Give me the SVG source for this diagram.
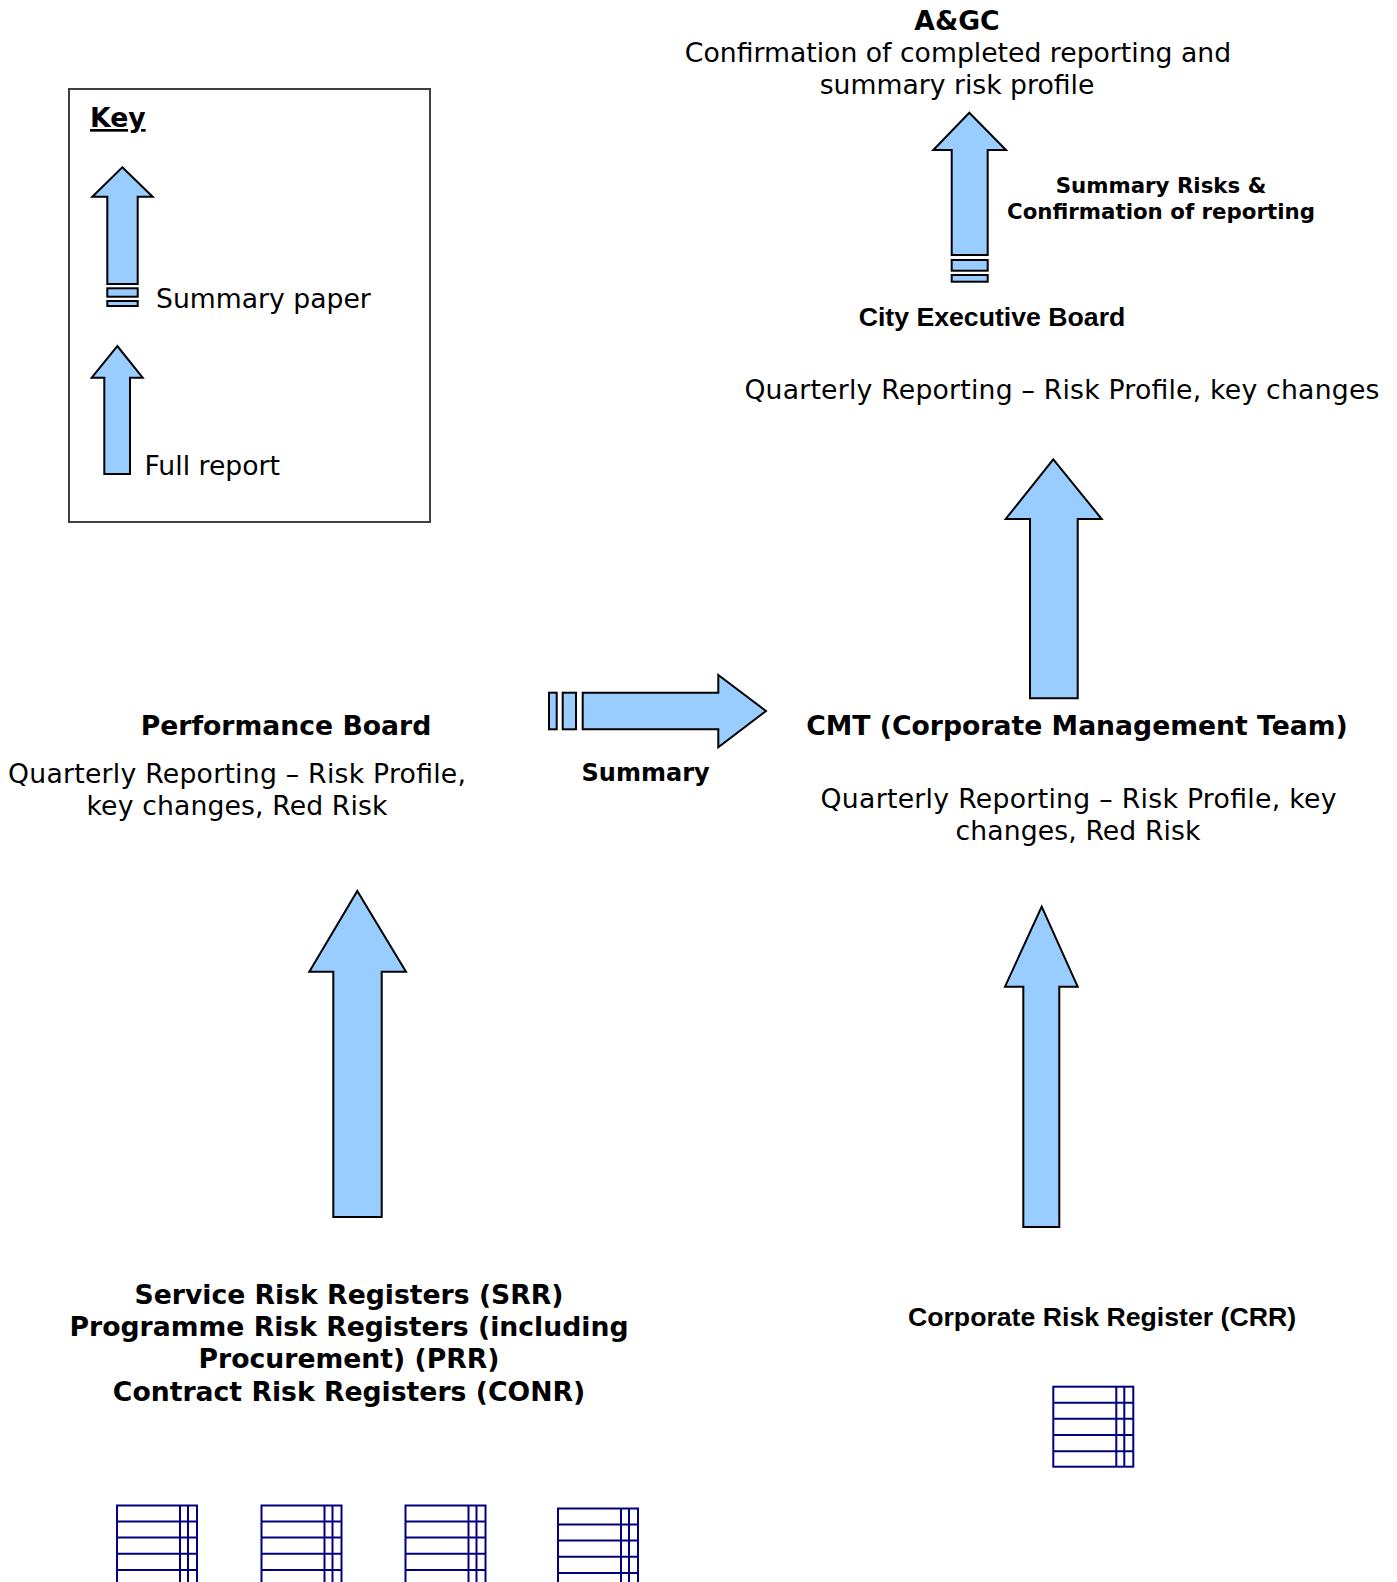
<svg xmlns="http://www.w3.org/2000/svg" xmlns:xlink="http://www.w3.org/1999/xlink" width="1397" height="1582" viewBox="0 0 1397 1582">
<style>
.arrow{fill:#99ccff;stroke:#000;stroke-width:2;stroke-linejoin:miter}
.reg{fill:none;stroke:#000080;stroke-width:2}
.t{font-family:"DejaVu Sans","Verdana",sans-serif;font-size:26.67px;fill:#000}
.tb{font-family:"DejaVu Sans","Verdana",sans-serif;font-size:26.67px;font-weight:bold;fill:#000}
.ab{font-family:"Liberation Sans",Arial,sans-serif;font-size:26.67px;font-weight:bold;fill:#000}
.m{text-anchor:middle}
</style>
<defs>
<g id="reg">
<rect class="reg" x="0" y="0" width="80" height="80"/>
<path class="reg" d="M0 16H80M0 32H80M0 48.3H80M0 64.5H80M63 0V80M71 0V80"/>
</g>
</defs>
<rect width="1397" height="1582" fill="#fff"/>

<g id="key">
<rect x="69" y="89" width="361" height="433" fill="none" stroke="#404040" stroke-width="2"/>
<text class="tb" x="90" y="127" text-decoration="underline">Key</text>
<polygon class="arrow" points="122.3,167.3 152.7,196.7 137.7,196.7 137.7,284 107.3,284 107.3,196.7 92.3,196.7"/>
<rect class="arrow" x="107.3" y="288.3" width="30.4" height="8.4"/>
<rect class="arrow" x="107.3" y="301" width="30.4" height="5"/>
<text class="t" x="156" y="308">Summary paper</text>
<polygon class="arrow" points="117.3,346 142.7,377.7 130,377.7 130,474 104.3,474 104.3,377.7 91.7,377.7"/>
<text class="t" x="144.5" y="475">Full report</text>
</g>

<g id="agc">
<text class="tb m" x="957" y="30">A&amp;GC</text>
<text class="t m" x="958" y="62">Confirmation of completed reporting and</text>
<text class="t m" x="957" y="94">summary risk profile</text>
</g>

<g id="ceb">
<text class="ab m" x="992" y="326">City Executive Board</text>
<text class="t" x="744.4" y="399" textLength="635" lengthAdjust="spacing">Quarterly Reporting – Risk Profile, key changes</text>
</g>

<g id="pb">
<text class="tb m" x="286" y="735">Performance Board</text>
<text class="t m" x="237" y="783" textLength="458" lengthAdjust="spacing">Quarterly Reporting – Risk Profile,</text>
<text class="t m" x="237" y="815" textLength="301" lengthAdjust="spacing">key changes, Red Risk</text>
</g>

<g id="cmt">
<text class="tb m" x="1077" y="735">CMT (Corporate Management Team)</text>
<text class="t m" x="1078.5" y="808" textLength="516" lengthAdjust="spacing">Quarterly Reporting – Risk Profile, key</text>
<text class="t m" x="1078" y="840" textLength="245" lengthAdjust="spacing">changes, Red Risk</text>
</g>

<g id="srr">
<text class="tb m" x="349" y="1304">Service Risk Registers (SRR)</text>
<text class="tb m" x="349" y="1336">Programme Risk Registers (including</text>
<text class="tb m" x="349" y="1368">Procurement) (PRR)</text>
<text class="tb m" x="349" y="1401">Contract Risk Registers (CONR)</text>
<use xlink:href="#reg" x="117" y="1505.5"/>
<use xlink:href="#reg" x="261.5" y="1505.5"/>
<use xlink:href="#reg" x="405.5" y="1505.5"/>
<use xlink:href="#reg" x="558" y="1508.5"/>
</g>

<g id="crr">
<text class="ab m" x="1102" y="1326">Corporate Risk Register (CRR)</text>
<use xlink:href="#reg" x="1053.3" y="1386.7"/>
</g>

<g id="connectors">
<g id="ceb-agc">
<polygon class="arrow" points="969.3,112.7 1006,150 987.7,150 987.7,255 951.7,255 951.7,150 933.3,150"/>
<rect class="arrow" x="951.7" y="260" width="36" height="10.7"/>
<rect class="arrow" x="951.7" y="275" width="36" height="6.7"/>
<text style="font-family:'DejaVu Sans',Verdana,sans-serif;font-size:21.33px;font-weight:bold" class="m" x="1161" y="192.5">Summary Risks &amp;</text>
<text style="font-family:'DejaVu Sans',Verdana,sans-serif;font-size:21.33px;font-weight:bold" class="m" x="1161" y="218.5">Confirmation of reporting</text>
</g>
<g id="cmt-ceb">
<polygon class="arrow" points="1053.3,459.3 1101.7,519 1077.7,519 1077.7,698.3 1030,698.3 1030,519 1005.7,519"/>
</g>
<g id="pb-cmt">
<rect class="arrow" x="549" y="692.7" width="7.7" height="36.6"/>
<rect class="arrow" x="562.7" y="692.7" width="13.3" height="36.6"/>
<polygon class="arrow" points="582.7,692.7 718.3,692.7 718.3,675 766,711 718.3,747.3 718.3,729.3 582.7,729.3"/>
<text style="font-family:'DejaVu Sans',Verdana,sans-serif;font-size:24px;font-weight:bold" class="m" x="645.6" y="781">Summary</text>
</g>
<g id="srr-pb">
<polygon class="arrow" points="357.3,891 406,971.7 381.7,971.7 381.7,1217 333.3,1217 333.3,971.7 309.3,971.7"/>
</g>
<g id="crr-cmt">
<polygon class="arrow" points="1041.7,906.7 1077.7,986.7 1059.3,986.7 1059.3,1227 1023.3,1227 1023.3,986.7 1005,986.7"/>
</g>
</g>
</svg>
